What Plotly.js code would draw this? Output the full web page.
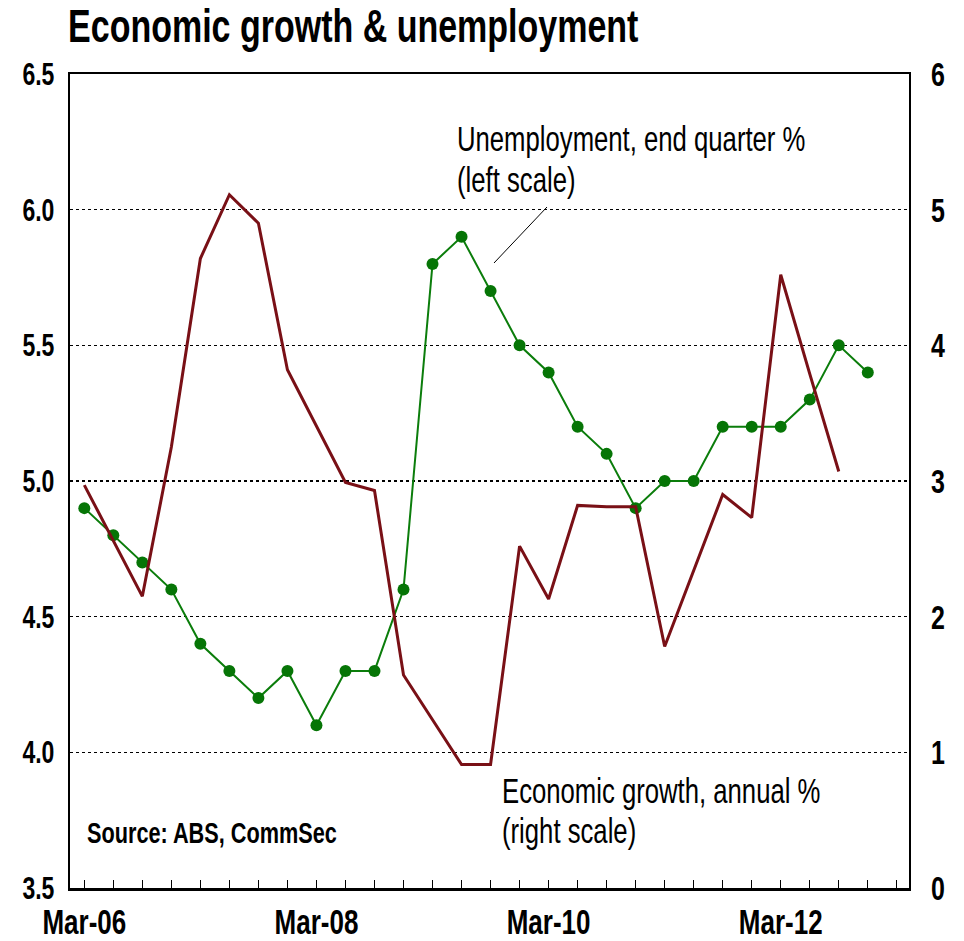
<!DOCTYPE html>
<html>
<head>
<meta charset="utf-8">
<script src="https://cdn.plot.ly/plotly-3.0.1.min.js"></script>
<style>
  html, body { margin: 0; padding: 0; background: #ffffff; }
  #chart { width: 964px; height: 941px; }
</style>
</head>
<body>
<div id="chart"></div>
<script>
// Quarter categories (Mar-06 to Mar-13)
const quarters = [
  'Mar-06','Jun-06','Sep-06','Dec-06',
  'Mar-07','Jun-07','Sep-07','Dec-07',
  'Mar-08','Jun-08','Sep-08','Dec-08',
  'Mar-09','Jun-09','Sep-09','Dec-09',
  'Mar-10','Jun-10','Sep-10','Dec-10',
  'Mar-11','Jun-11','Sep-11','Dec-11',
  'Mar-12','Jun-12','Sep-12','Dec-12',
  'Mar-13'
];
const shownLabels = ['Mar-06','Mar-08','Mar-10','Mar-12'];

// Unemployment rate, end quarter % (left scale), Mar-06 .. Dec-12
const unemployment = [
  4.9, 4.8, 4.7, 4.6,
  4.4, 4.3, 4.2, 4.3,
  4.1, 4.3, 4.3, 4.6,
  5.8, 5.9, 5.7, 5.5,
  5.4, 5.2, 5.1, 4.9,
  5.0, 5.0, 5.2, 5.2,
  5.2, 5.3, 5.5, 5.4
];

// Economic growth, annual % (right scale), Mar-06 .. Sep-12
const growth = [
  2.97, 2.56, 2.15, 3.25,
  4.64, 5.11, 4.90, 3.82,
  3.40, 2.99, 2.93, 1.57,
  1.24, 0.91, 0.91, 2.52,
  2.13, 2.82, 2.81, 2.81,
  1.78, 2.34, 2.90, 2.73,
  4.52, 3.79, 3.07
];

const leftTicks = [3.5, 4.0, 4.5, 5.0, 5.5, 6.0, 6.5];
const leftTickText = ['3.5','4.0','4.5','5.0','5.5','6.0','6.5'];
const rightTicks = [0, 1, 2, 3, 4, 5, 6];

const FONT = '"Liberation Sans", Arial, sans-serif';
const STRETCH = 1.35; // vertical stretch of the condensed-looking lettering

const W = 964, H = 941;
const ML = 70, MR = 55, MT = 74, MB = 53;
const PW = W - ML - MR, PH = H - MT - MB;
const px = x => (x - ML) / PW;
const py = y => 1 - (y - MT) / PH;

const traces = [
  {
    x: quarters.slice(0, growth.length),
    y: growth,
    yaxis: 'y2',
    type: 'scatter',
    mode: 'lines',
    line: { color: '#791016', width: 3 },
    hoverinfo: 'skip',
    showlegend: false
  },
  {
    x: quarters.slice(0, unemployment.length),
    y: unemployment,
    type: 'scatter',
    mode: 'lines+markers',
    line: { color: '#0b7d0b', width: 2 },
    marker: { color: '#067506', size: 12 },
    hoverinfo: 'skip',
    showlegend: false
  }
];

const layout = {
  width: W,
  height: H,
  margin: { l: ML, r: MR, t: MT, b: MB, pad: 0 },
  paper_bgcolor: '#ffffff',
  plot_bgcolor: '#ffffff',
  font: { family: FONT, color: '#000000' },
  title: { text: '' },
  xaxis: {
    type: 'category',
    categoryorder: 'array',
    categoryarray: quarters,
    range: [-0.493, 28.42],
    tickmode: 'array',
    tickvals: quarters,
    ticktext: quarters.map(q => shownLabels.includes(q) ? q : ''),
    ticks: 'inside',
    ticklen: 8,
    tickwidth: 1,
    tickcolor: '#000000',
    tickangle: 0,
    tickfont: { family: FONT, size: 26, weight: 'bold', color: '#000000' },
    ticklabelstandoff: 9,
    showline: true,
    linecolor: '#000000',
    linewidth: 2.5,
    mirror: true,
    showgrid: false,
    zeroline: false,
    fixedrange: true
  },
  yaxis: {
    range: [3.5, 6.5],
    tickmode: 'array',
    tickvals: leftTicks,
    ticktext: leftTickText,
    ticks: '',
    tickfont: { family: FONT, size: 23, weight: 'bold', color: '#000000' },
    ticklabelstandoff: 9,
    showline: true,
    linecolor: '#000000',
    linewidth: 2,
    showgrid: true,
    gridcolor: '#000000',
    gridwidth: 1.3,
    griddash: '3px,3px',
    zeroline: false,
    fixedrange: true
  },
  yaxis2: {
    range: [0, 6],
    overlaying: 'y',
    side: 'right',
    tickmode: 'array',
    tickvals: rightTicks,
    ticks: '',
    tickfont: { family: FONT, size: 25, weight: 'bold', color: '#000000' },
    ticklabelstandoff: 15,
    showline: true,
    linecolor: '#000000',
    linewidth: 2,
    showgrid: false,
    zeroline: false,
    fixedrange: true
  },
  shapes: [
    {
      type: 'line', xref: 'paper', yref: 'paper',
      x0: px(494), y0: py(263), x1: px(547), y1: py(207),
      line: { color: '#000000', width: 1 }
    }
  ],
  annotations: [
    {
      text: 'Economic growth &amp; unemployment',
      xref: 'paper', yref: 'paper', x: px(66), y: py(26),
      xanchor: 'left', yanchor: 'middle', showarrow: false,
      font: { family: FONT, size: 34, weight: 'bold', color: '#000000' }
    },
    {
      text: 'Unemployment, end quarter %',
      xref: 'paper', yref: 'paper', x: px(455), y: py(139),
      xanchor: 'left', yanchor: 'middle', showarrow: false,
      font: { family: FONT, size: 25.7, color: '#000000' }
    },
    {
      text: '(left scale)',
      xref: 'paper', yref: 'paper', x: px(455), y: py(180),
      xanchor: 'left', yanchor: 'middle', showarrow: false,
      font: { family: FONT, size: 25.7, color: '#000000' }
    },
    {
      text: 'Economic growth, annual %',
      xref: 'paper', yref: 'paper', x: px(500), y: py(791),
      xanchor: 'left', yanchor: 'middle', showarrow: false,
      font: { family: FONT, size: 25.7, color: '#000000' }
    },
    {
      text: '(right scale)',
      xref: 'paper', yref: 'paper', x: px(500), y: py(831),
      xanchor: 'left', yanchor: 'middle', showarrow: false,
      font: { family: FONT, size: 25.7, color: '#000000' }
    },
    {
      text: 'Source: ABS, CommSec',
      xref: 'paper', yref: 'paper', x: px(85), y: py(832),
      xanchor: 'left', yanchor: 'middle', showarrow: false,
      font: { family: FONT, size: 21.7, weight: 'bold', color: '#000000' }
    }
  ]
};

// Stretch every text vertically about its own centre (text stays real SVG text)
function stretchTexts(gd, k) {
  const svg = gd.querySelector('svg');
  gd.querySelectorAll('svg text').forEach(el => {
    if (!el.textContent.trim()) return;
    const bb = el.getBBox();
    const list = el.transform.baseVal;
    const cons = list.numberOfItems ? list.consolidate() : null;
    const m = cons ? cons.matrix : svg.createSVGMatrix();
    const lx = bb.x + bb.width / 2, ly = bb.y + bb.height / 2;
    const cy = m.b * lx + m.d * ly + m.f;
    const a = m.a, b = m.b * k, c = m.c, d = m.d * k, e = m.e, f = m.f * k + cy * (1 - k);
    el.setAttribute('transform', 'matrix(' + [a, b, c, d, e, f].join(',') + ')');
  });
}

Plotly.newPlot('chart', traces, layout, { displayModeBar: false, staticPlot: true })
  .then(gd => stretchTexts(gd, STRETCH));
</script>
</body>
</html>
